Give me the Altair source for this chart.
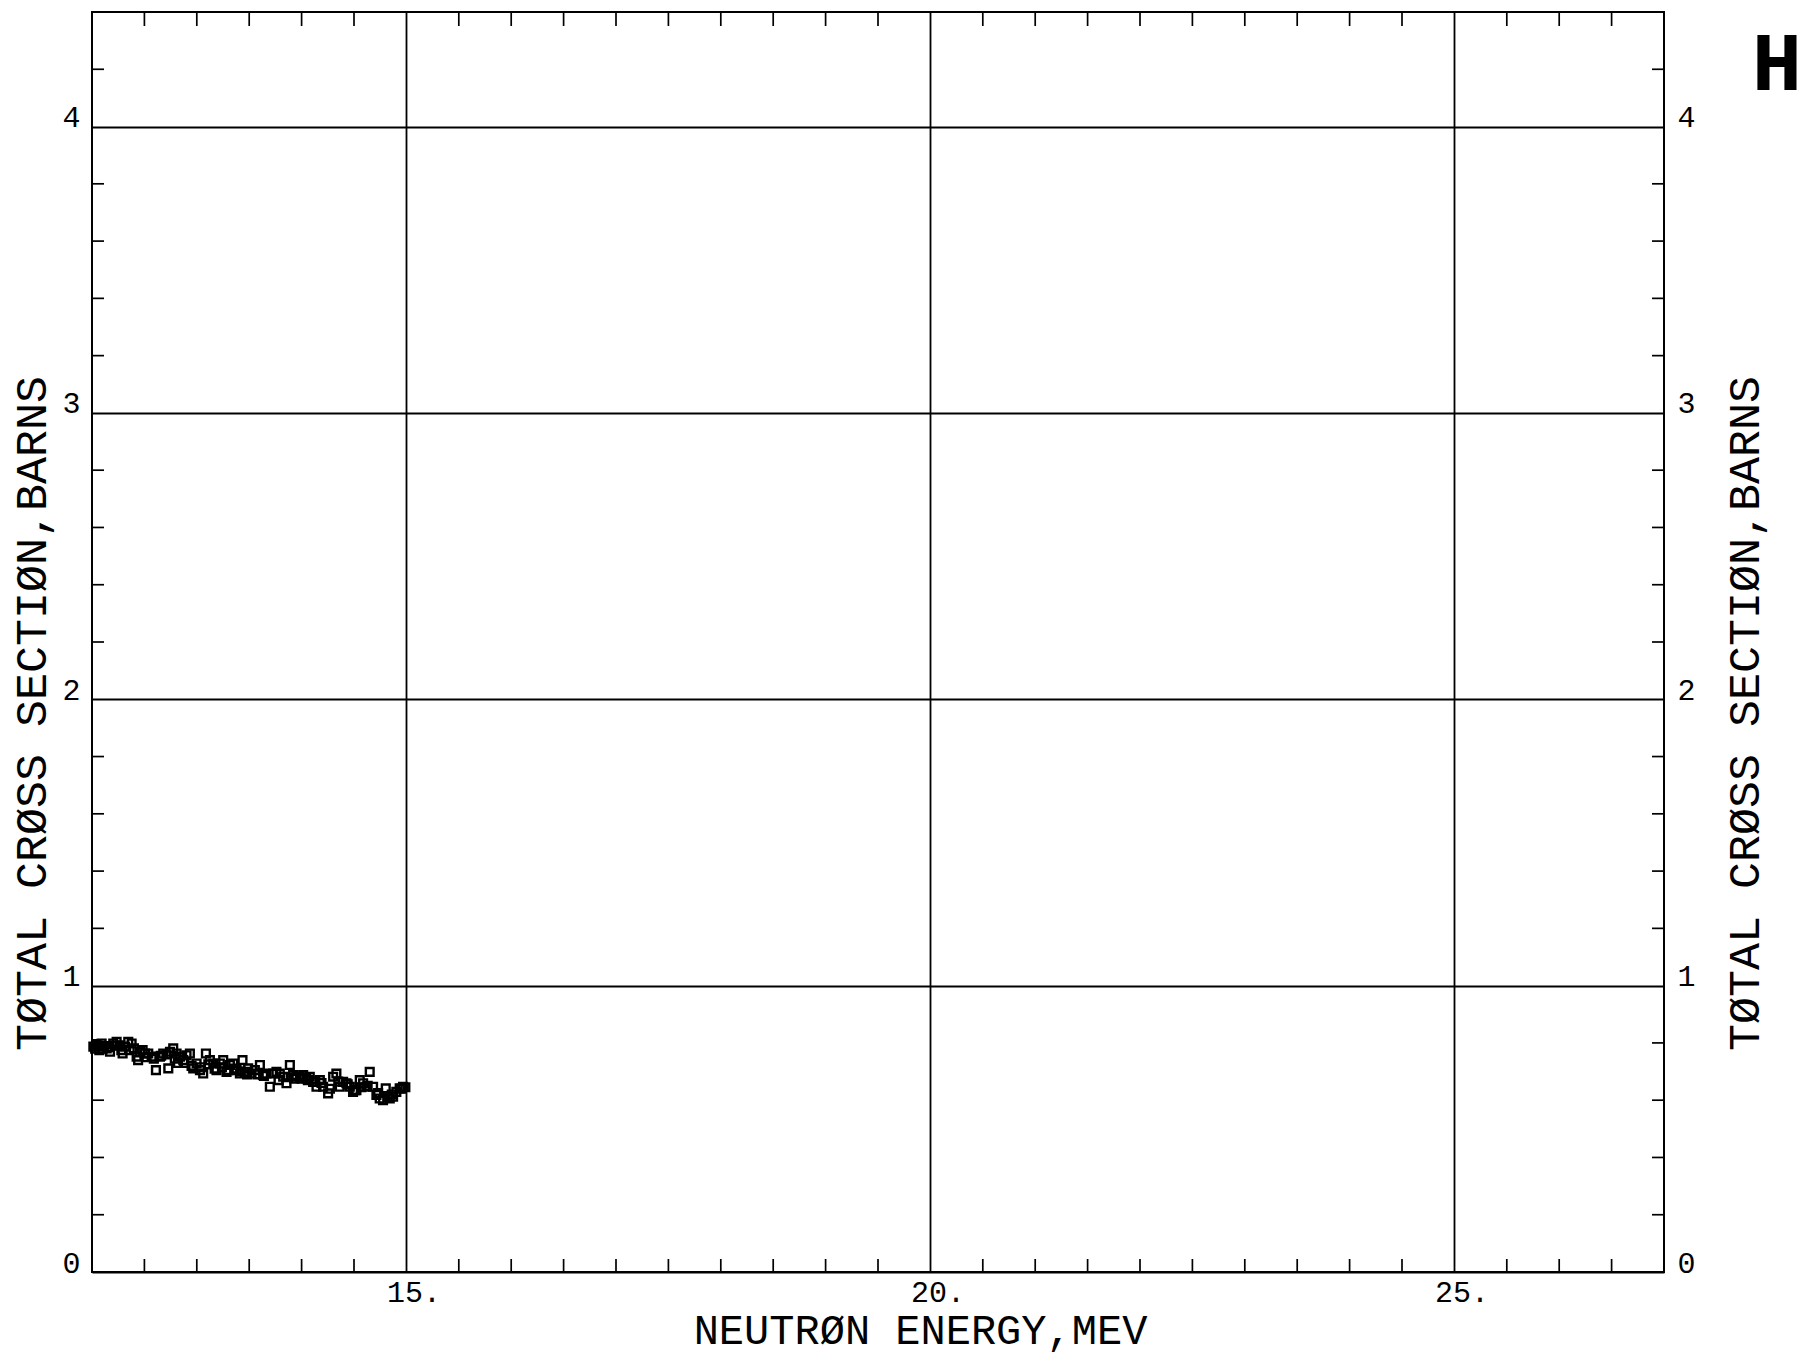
import altair as alt
import pandas as pd

# ---- data ----
energy = [12.013, 12.03, 12.044, 12.06, 12.070, 12.092, 12.10, 12.114, 12.140, 12.16, 12.172, 12.203,
          12.22, 12.235, 12.261, 12.28, 12.292, 12.315, 12.346, 12.36, 12.378, 12.400, 12.426, 12.44,
          12.458, 12.483, 12.505, 12.52, 12.537, 12.569, 12.59, 12.610, 12.648, 12.66, 12.680, 12.71,
          12.728, 12.744, 12.775, 12.79, 12.807, 12.82, 12.839, 12.871, 12.88, 12.902, 12.934, 12.95,
          12.966, 12.998, 13.030, 13.04, 13.061, 13.087, 13.11, 13.125, 13.157, 13.17, 13.188, 13.220,
          13.24, 13.252, 13.284, 13.30, 13.316, 13.347, 13.36, 13.379, 13.411, 13.42, 13.436, 13.459,
          13.48, 13.490, 13.522, 13.554, 13.58, 13.602, 13.633, 13.64, 13.665, 13.697, 13.729, 13.760,
          13.78, 13.792, 13.824, 13.856, 13.87, 13.888, 13.919, 13.93, 13.951, 13.983, 14.00, 14.015,
          14.046, 14.06, 14.078, 14.110, 14.13, 14.142, 14.174, 14.19, 14.205, 14.253, 14.27, 14.301,
          14.332, 14.35, 14.364, 14.396, 14.428, 14.44, 14.460, 14.491, 14.51, 14.523, 14.555, 14.57,
          14.587, 14.618, 14.63, 14.650, 14.682, 14.714, 14.73, 14.745, 14.777, 14.803, 14.82, 14.841,
          14.86, 14.873, 14.904, 14.936, 14.95, 14.968, 14.99]
sigma = [0.787, 0.780, 0.796, 0.790, 0.775, 0.798, 0.780, 0.789, 0.781, 0.785, 0.769, 0.798,
         0.790, 0.804, 0.792, 0.775, 0.763, 0.787, 0.804, 0.775, 0.798, 0.781, 0.752, 0.740,
         0.769, 0.775, 0.763, 0.750, 0.763, 0.752, 0.745, 0.705, 0.752, 0.755, 0.763, 0.760,
         0.711, 0.769, 0.781, 0.745, 0.763, 0.730, 0.752, 0.740, 0.730, 0.757, 0.763, 0.720,
         0.711, 0.728, 0.705, 0.715, 0.693, 0.763, 0.725, 0.740, 0.728, 0.710, 0.705, 0.728,
         0.715, 0.740, 0.699, 0.705, 0.723, 0.728, 0.710, 0.705, 0.693, 0.700, 0.740, 0.699,
         0.690, 0.711, 0.693, 0.705, 0.690, 0.723, 0.688, 0.685, 0.693, 0.647, 0.693, 0.699,
         0.670, 0.693, 0.682, 0.659, 0.680, 0.723, 0.688, 0.675, 0.682, 0.682, 0.675, 0.688,
         0.676, 0.670, 0.682, 0.664, 0.665, 0.647, 0.670, 0.660, 0.647, 0.624, 0.640, 0.682,
         0.693, 0.665, 0.647, 0.664, 0.659, 0.655, 0.647, 0.629, 0.635, 0.635, 0.670, 0.645,
         0.659, 0.647, 0.650, 0.699, 0.647, 0.618, 0.625, 0.606, 0.600, 0.641, 0.610, 0.606,
         0.620, 0.612, 0.629, 0.641, 0.640, 0.647, 0.645]

x_major = [15, 20, 25]
y_major = [0, 1, 2, 3, 4]
x_minor = [12.5, 13.0, 13.5, 14.0, 14.5, 15.5, 16.0, 16.5, 17.0, 17.5, 18.0, 18.5, 19.0, 19.5,
           20.5, 21.0, 21.5, 22.0, 22.5, 23.0, 23.5, 24.0, 24.5, 25.5, 26.0, 26.5]
y_minor = [0.2, 0.4, 0.6, 0.8, 1.2, 1.4, 1.6, 1.8, 2.2, 2.4, 2.6, 2.8, 3.2, 3.4, 3.6, 3.8, 4.2]

x_title = "NEUTRØN ENERGY,MEV"
y_title = "TØTAL CRØSS SECTIØN,BARNS"
panel_label = "H"

W, H = 1572, 1260
FONT = "Liberation Mono"
LBL = 30
TTL = 45
XTTL = 42

xs = alt.Scale(domain=[12, 27], nice=False, zero=False)
ys = alt.Scale(domain=[0, 4.4], nice=False, zero=False)

x_axis = alt.Axis(
    values=x_major, grid=True, ticks=False, tickSize=0, domain=False,
    labelExpr="datum.value + '.'", labelFont=FONT, labelFontSize=LBL, labelColor="black",
    labelPadding=5, labelBaseline="top", labelOffset=7, labelFlush=False,
    title=x_title, titleFont=FONT, titleFontSize=XTTL, titleFontWeight="normal", titleColor="black",
    titleX=828, titleY=80, titleAlign="center", titleBaseline="bottom")

pts = pd.DataFrame({"E": energy, "S": sigma})
xm = pd.DataFrame({"v": x_minor})
ym = pd.DataFrame({"v": y_minor})

points = alt.Chart(pts).mark_point(
    shape="square", filled=False, size=60, strokeWidth=2.4, color="black", opacity=1
).encode(
    x=alt.X("E:Q", scale=xs, axis=x_axis),
    y=alt.Y("S:Q", scale=ys, axis=alt.Axis(
        values=y_major, grid=True, ticks=False, tickSize=0, domain=False,
        labelFont=FONT, labelFontSize=LBL, labelColor="black", labelPadding=12,
        labelAlign="right", labelBaseline="alphabetic", labelFlush=False,
        title=y_title, titleFont=FONT, titleFontSize=TTL, titleFontWeight="normal", titleColor="black",
        titleAngle=270, titleX=-61, titleY=701, titleAlign="center", titleBaseline="middle")),
)

bottom_ticks = alt.Chart(xm).mark_rule(color="black", strokeWidth=1.7).encode(
    x=alt.X("v:Q", scale=xs, axis=x_axis), y=alt.value(H), y2=alt.value(H - 13))
top_ticks = alt.Chart(xm).mark_rule(color="black", strokeWidth=1.7).encode(
    x=alt.X("v:Q", scale=xs, axis=x_axis), y=alt.value(0), y2=alt.value(14))
left_ticks = alt.Chart(ym).mark_rule(color="black", strokeWidth=1.7).encode(
    y=alt.Y("v:Q", scale=ys, axis=None), x=alt.value(0), x2=alt.value(12))
right_ticks = alt.Chart(ym).mark_rule(color="black", strokeWidth=1.7).encode(
    y=alt.Y("v:Q", scale=ys, axis=alt.Axis(
        orient="right", values=y_major, grid=False, ticks=False, tickSize=0, domain=False,
        labelFont=FONT, labelFontSize=LBL, labelColor="black", labelPadding=13,
        labelAlign="left", labelBaseline="alphabetic", labelFlush=False,
        title=y_title, titleFont=FONT, titleFontSize=TTL, titleFontWeight="normal", titleColor="black",
        titleAngle=270, titleX=80, titleY=701, titleAlign="center", titleBaseline="middle")),
    x=alt.value(W - 12), x2=alt.value(W))

label = alt.Chart(pd.DataFrame({"t": [panel_label]})).mark_text(
    font=FONT, fontSize=84, fontWeight="bold", color="black", align="center", baseline="alphabetic"
).encode(text="t:N", x=alt.value(1777 - 92), y=alt.value(90 - 12))

chart = alt.layer(points, bottom_ticks, top_ticks, left_ticks, right_ticks, label).resolve_scale(
    y="independent").properties(
    width=W, height=H,
    autosize=alt.AutoSizeParams(type="none"),
    padding={"left": 92, "top": 12, "right": 141, "bottom": 90},
    background="white",
).configure_view(stroke="black", strokeWidth=2).configure_axis(
    gridColor="black", gridWidth=1.8, gridOpacity=1)

chart.save("out.html", embed_options={"renderer": "svg", "actions": False})
